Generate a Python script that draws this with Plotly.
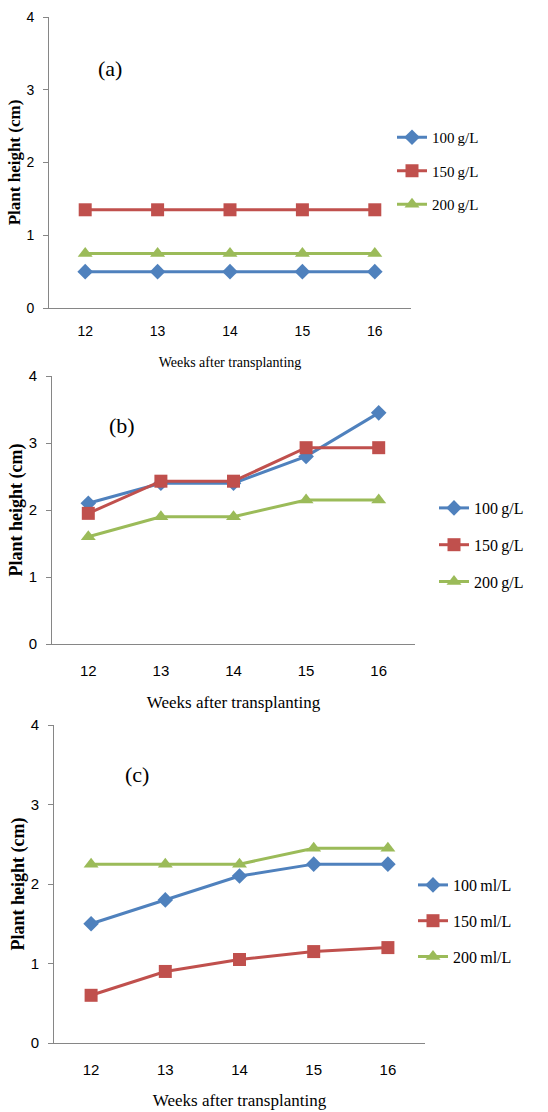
import plotly.graph_objects as go

weeks = [12, 13, 14, 15, 16]
week_labels = ["12", "13", "14", "15", "16"]

a_100 = [0.5, 0.5, 0.5, 0.5, 0.5]
a_150 = [1.35, 1.35, 1.35, 1.35, 1.35]
a_200 = [0.75, 0.75, 0.75, 0.75, 0.75]

b_100 = [2.1, 2.4, 2.4, 2.8, 3.45]
b_150 = [1.95, 2.43, 2.43, 2.93, 2.93]
b_200 = [1.6, 1.9, 1.9, 2.15, 2.15]

c_100 = [1.5, 1.8, 2.1, 2.25, 2.25]
c_150 = [0.6, 0.9, 1.05, 1.15, 1.2]
c_200 = [2.25, 2.25, 2.25, 2.45, 2.45]

names_g = ["100\u2009g/L", "150\u2009g/L", "200\u2009g/L"]
names_ml = ["100\u2009ml/L", "150\u2009ml/L", "200\u2009ml/L"]

colors = ["#4F81BD", "#C0504D", "#9BBB59"]
symbols = ["diamond", "square", "triangle-up"]
msizes = [12, 13, 13]

SERIF = "Liberation Serif, Times New Roman, serif"
SANS = "Liberation Sans Narrow, Arial Narrow, Liberation Sans, sans-serif"

fig = go.Figure()

panels = [
    ("", "", "legend", [a_100, a_150, a_200], names_g),
    ("2", "2", "legend2", [b_100, b_150, b_200], names_g),
    ("3", "3", "legend3", [c_100, c_150, c_200], names_ml),
]

for xs, ys, leg, series, names in panels:
    for i, (vals, nm) in enumerate(zip(series, names)):
        fig.add_trace(go.Scatter(
            x=weeks, y=vals, name=nm, mode="lines+markers",
            xaxis="x" + xs, yaxis="y" + ys, legend=leg,
            legendgroup=leg + str(i),
            line=dict(color=colors[i], width=3),
            marker=dict(symbol=symbols[i], size=msizes[i], color=colors[i]),
        ))

W, H = 548, 1112

def dom_x(a, b):
    return [a / W, b / W]

def dom_y(top, bottom):
    return [(H - bottom) / H, (H - top) / H]

axis_line = "#868686"

def xaxis(dom, anchor, tsize, title_size, standoff, tls):
    return dict(
        domain=dom, anchor=anchor, range=[11.5, 16.5], automargin=True,
        tickmode="array", tickvals=weeks, ticktext=week_labels,
        showgrid=False, zeroline=False, showline=True, linecolor=axis_line, linewidth=1,
        ticks="", tickfont=dict(family=SANS, size=tsize, color="#000"),
        ticklabelstandoff=tls,
        title=dict(text="Weeks after transplanting", font=dict(family=SERIF, size=title_size, color="#000"),
                   standoff=standoff),
    )

def yaxis(dom, anchor, tsize, title_size, standoff):
    return dict(
        domain=dom, anchor=anchor, range=[0, 4], dtick=1, automargin=True,
        showgrid=False, zeroline=False, showline=True, linecolor=axis_line, linewidth=1,
        ticks="outside", ticklen=5, tickcolor=axis_line, ticklabelstandoff=6,
        tickfont=dict(family=SANS, size=tsize, color="#000"),
        title=dict(text="<b>Plant height (cm)</b>", font=dict(family=SERIF, size=title_size, color="#000"),
                   standoff=standoff),
    )

def legend(x, ytop, fsize, gap):
    return dict(
        x=x / W, y=(H - ytop) / H, xanchor="left", yanchor="top",
        font=dict(family=SERIF, size=fsize, color="#000"),
        tracegroupgap=gap, bgcolor="rgba(0,0,0,0)", itemwidth=30,
    )

def label(text, x, y):
    return dict(text=text, x=x / W, y=(H - y) / H, xref="paper", yref="paper", showarrow=False,
                xanchor="center", yanchor="middle", font=dict(family=SERIF, size=22, color="#000"))

fig.update_layout(
    width=W, height=H, margin=dict(l=0, r=0, t=0, b=0, autoexpand=False),
    paper_bgcolor="white", plot_bgcolor="white", showlegend=True,
    xaxis=xaxis(dom_x(49, 411), "y", 14, 14, 19, 10),
    yaxis=yaxis(dom_y(17, 308), "x", 14, 17, 1),
    xaxis2=xaxis(dom_x(52, 415), "y2", 15, 17, 18, 13),
    yaxis2=yaxis(dom_y(376, 644), "x2", 15, 18, 1),
    xaxis3=xaxis(dom_x(54, 425), "y3", 15, 17, 17, 13),
    yaxis3=yaxis(dom_y(725, 1043), "x3", 15, 18, 1),
    legend=legend(392, 121, 15, 11),
    legend2=legend(434, 491, 16, 13),
    legend3=legend(413, 868, 16, 12),
    annotations=[
        label("(a)", 110, 69),
        label("(b)", 122, 426),
        label("(c)", 137, 774),
    ],
)

fig.write_html("out.html")
